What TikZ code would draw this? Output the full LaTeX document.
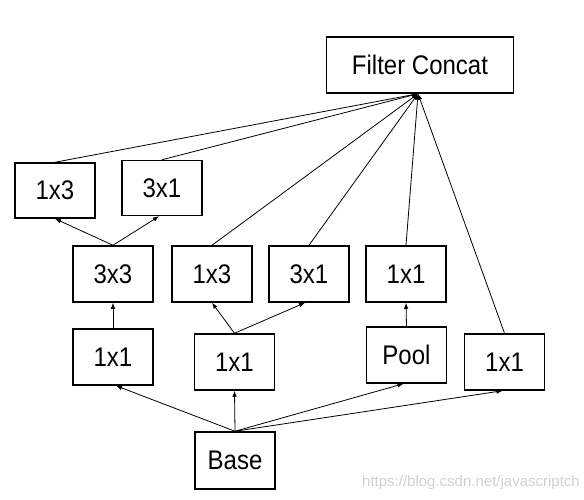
\documentclass[tikz,border=0pt]{standalone}
\usepackage{fontspec}
\usepackage{graphicx}
\setmainfont{Liberation Sans}
\usetikzlibrary{arrows.meta}
\newcommand{\btxt}[1]{\scalebox{1}[1.12]{#1}}
\begin{document}
\begin{tikzpicture}[x=1pt,y=-1pt,
  box/.style={draw=black,line width=1.5pt,minimum width=80pt,minimum height=56pt,inner sep=0pt,font=\fontsize{24}{26}\selectfont},
  conn/.style={draw=black,line width=0.8pt,-{Latex[length=6pt,width=4.5pt]}},
  wm/.style={text=black!18,font=\fontsize{15}{17}\selectfont,inner sep=0pt}]
\useasboundingbox[fill=white] (0,0) rectangle (584,500);
\node[box,minimum width=187pt] (fc) at (420,65) {\btxt{Filter Concat}};
\node[box,minimum height=55pt] (t13) at (55,190.5) {\btxt{1x3}};
\node[box,minimum height=55pt] (t31) at (162,188) {\btxt{3x1}};
\node[box] (m33) at (113,274) {\btxt{3x3}};
\node[box] (m13) at (212,274) {\btxt{1x3}};
\node[box] (m31) at (309,274) {\btxt{3x1}};
\node[box] (m11) at (406,274) {\btxt{1x1}};
\node[box] (l11a) at (113,357) {\btxt{1x1}};
\node[box] (l11b) at (234.5,362) {\btxt{1x1}};
\node[box] (pool) at (406.5,355) {\btxt{Pool}};
\node[box] (l11c) at (504.5,362) {\btxt{1x1}};
\node[box,minimum height=57pt] (base) at (235,460.5) {\btxt{Base}};
\coordinate (fcin) at ([xshift=-2pt]fc.south);
\foreach \n in {t13,t31,m13,m31,m11,l11c}
  \draw[conn] (\n.north) -- (fcin);
\draw[conn] (m33.north) -- (t13.south);
\draw[conn] (m33.north) -- ([xshift=-3pt]t31.south);
\draw[conn] (l11a.north) -- (m33.south);
\draw[conn] (l11b.north) -- (m13.south);
\draw[conn] (l11b.north) -- ([xshift=-4pt]m31.south);
\draw[conn] (pool.north) -- (m11.south);
\draw[conn] (base.north) -- ([xshift=3pt]l11a.south);
\draw[conn] (base.north) -- (l11b.south);
\draw[conn] (base.north) -- ([xshift=-3pt]pool.south);
\draw[conn] (base.north) -- ([xshift=-2pt]l11c.south);
\node[wm,anchor=south east] (wmark) at (580,490) {https://blog.csdn.net/javascriptch};
\end{tikzpicture}
\end{document}
